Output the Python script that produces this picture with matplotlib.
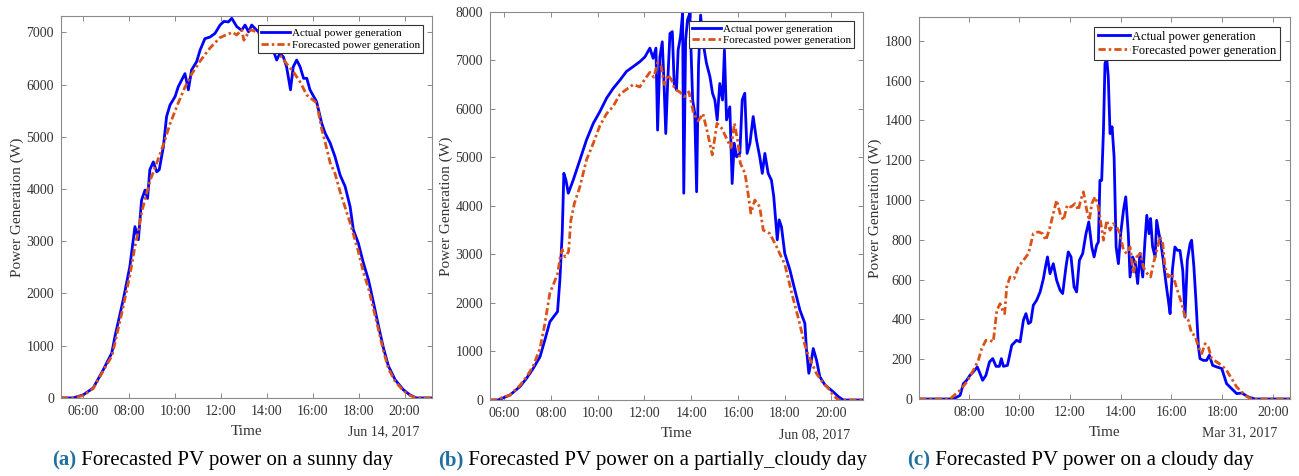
import matplotlib
matplotlib.use("Agg")
import matplotlib.pyplot as plt

plt.rcParams['font.family'] = ['Liberation Serif', 'DejaVu Serif']

# ---- (a) sunny day, Jun 14 2017 ----
t_a_act = [5.03, 5.55, 6.0, 6.43, 6.87, 7.24, 7.38, 7.74, 8.03, 8.25,
           8.4, 8.54, 8.69, 8.8, 8.9, 9.05, 9.2, 9.31, 9.49, 9.63,
           9.78, 10.0, 10.14, 10.29, 10.43, 10.58, 10.72, 10.94, 11.09, 11.3,
           11.52, 11.74, 11.96, 12.13, 12.32, 12.47, 12.69, 12.9, 13.05, 13.2,
           13.34, 13.56, 13.78, 14.0, 14.2, 14.43, 14.57, 14.72, 14.86, 15.03,
           15.15, 15.3, 15.45, 15.6, 15.74, 15.88, 16.17, 16.39, 16.54, 16.76,
           16.97, 17.19, 17.41, 17.63, 17.77, 17.99, 18.21, 18.43, 18.65, 18.87,
           19.08, 19.3, 19.59, 19.94, 20.23, 20.52, 21.2]
p_a_act = [0, 0, 60, 190, 540, 860, 1180, 1880, 2520, 3280,
           3030, 3790, 3980, 3820, 4370, 4520, 4330, 4370, 4810, 5390,
           5610, 5770, 5960, 6090, 6210, 5900, 6280, 6440, 6660, 6880,
           6910, 6980, 7140, 7210, 7200, 7270, 7110, 7040, 7140, 7010,
           7140, 7040, 6950, 6850, 6750, 6470, 6600, 6530, 6340, 5900,
           6340, 6470, 6340, 6120, 6120, 5900, 5670, 5260, 5070, 4880,
           4620, 4270, 4050, 3660, 3220, 2960, 2580, 2260, 1820, 1370,
           960, 610, 350, 160, 60, 0, 0]
t_a_fc = [5.03, 5.6, 6.0, 6.43, 6.87, 7.24, 7.38, 7.74, 8.03, 8.25,
          8.4, 8.54, 8.69, 8.9, 9.2, 9.49, 9.78, 10.14, 10.43, 10.72,
          11.09, 11.52, 11.96, 12.32, 12.5, 12.69, 12.9, 13.0, 13.05, 13.3,
          13.6, 14.0, 14.43, 14.86, 15.15, 15.45, 15.74, 16.17, 16.39, 16.54,
          16.76, 16.97, 17.19, 17.41, 17.63, 17.99, 18.21, 18.43, 18.65, 18.87,
          19.08, 19.3, 19.59, 19.94, 20.23, 20.5, 21.2]
p_a_fc = [0, 0, 50, 180, 520, 800, 1050, 1750, 2350, 2900,
          3200, 3550, 3800, 4150, 4500, 4850, 5250, 5650, 5950, 6200,
          6450, 6700, 6900, 6970, 7000, 6950, 7050, 6850, 6900, 7050,
          7000, 6850, 6650, 6400, 6250, 6050, 5800, 5650, 5150, 4900,
          4500, 4300, 3950, 3650, 3350, 2800, 2400, 2100, 1700, 1300,
          900, 560, 320, 140, 50, 0, 0]

# ---- (b) partially cloudy day, Jun 08 2017 ----
t_b_act = [5.39, 5.74, 6.24, 6.67, 6.96, 7.24, 7.53, 7.74, 7.95, 8.12,
           8.28, 8.38, 8.48, 8.55, 8.64, 8.74, 8.95, 9.24, 9.52, 9.81,
           10.09, 10.38, 10.66, 10.95, 11.23, 11.52, 11.8, 12.02, 12.23, 12.37,
           12.49, 12.56, 12.66, 12.76, 12.83, 12.91, 12.99, 13.09, 13.19, 13.27,
           13.37, 13.44, 13.54, 13.63, 13.68, 13.76, 13.84, 13.94, 14.06, 14.15,
           14.23, 14.31, 14.4, 14.51, 14.65, 14.8, 14.91, 15.01, 15.11, 15.22,
           15.34, 15.42, 15.51, 15.65, 15.75, 15.84, 15.94, 16.08, 16.18, 16.29,
           16.39, 16.51, 16.65, 16.79, 16.93, 17.04, 17.15, 17.29, 17.43, 17.53,
           17.68, 17.76, 17.86, 18.0, 18.22, 18.43, 18.65, 18.86, 18.93, 19.03,
           19.12, 19.22, 19.36, 19.5, 19.72, 20.07, 20.29, 20.5, 21.35]
p_b_act = [0, 0, 100, 275, 450, 650, 890, 1240, 1610, 1720,
           1820, 2470, 3430, 4670, 4530, 4260, 4530, 4950, 5360, 5700,
           5940, 6220, 6420, 6590, 6770, 6870, 6970, 7070, 7250, 7040,
           7250, 5560, 7070, 7380, 6590, 5490, 6520, 7550, 7590, 6520,
           6390, 7210, 7490, 7970, 4260, 7420, 7830, 7970, 6180, 5910,
           4290, 6870, 7930, 7350, 6940, 6660, 6320, 6180, 5770, 6520,
           6180, 7210, 5770, 6040, 4460, 5290, 5010, 5080, 6180, 6320,
           5080, 5290, 5840, 5360, 5010, 4670, 5080, 4670, 4530, 4190,
           3300, 3710, 3570, 3020, 2680, 2270, 1850, 1580, 1030, 550,
           760, 1060, 820, 480, 310, 170, 70, 0, 0]
t_b_fc = [5.39, 5.6, 6.24, 6.67, 6.96, 7.24, 7.53, 7.74, 7.95, 8.12,
          8.28, 8.4, 8.48, 8.6, 8.75, 8.85, 9.0, 9.24, 9.52, 9.81,
          10.09, 10.38, 10.66, 10.95, 11.23, 11.52, 11.8, 12.0, 12.23, 12.4,
          12.56, 12.7, 12.85, 13.0, 13.15, 13.3, 13.5, 13.7, 13.9, 14.1,
          14.3, 14.5, 14.7, 14.9, 15.1, 15.3, 15.5, 15.7, 15.85, 16.0,
          16.1, 16.3, 16.45, 16.55, 16.72, 16.93, 17.08, 17.36, 17.65, 17.8,
          18.0, 18.3, 18.6, 18.85, 19.0, 19.35, 19.6, 19.86, 20.1, 20.3,
          21.35]
p_b_fc = [0, 0, 100, 300, 480, 700, 1060, 1580, 2200, 2400,
          2600, 2950, 3100, 2950, 3050, 3700, 4050, 4400, 4950, 5290,
          5650, 5900, 6050, 6300, 6400, 6500, 6450, 6600, 6750, 6650,
          6950, 6900, 6500, 6700, 6600, 6400, 6350, 6250, 6350, 5900,
          5750, 5900, 5500, 5050, 5700, 5600, 5400, 5200, 5700, 5300,
          4880, 4670, 4190, 3850, 4120, 3980, 3500, 3430, 3160, 3000,
          2800, 2200, 1650, 1150, 930, 550, 380, 240, 80, 0,
          0]

# ---- (c) cloudy day, Mar 31 2017 ----
t_c_act = [6.04, 7.39, 7.66, 7.79, 7.92, 8.05, 8.18, 8.34, 8.45, 8.55,
           8.68, 8.82, 8.95, 9.08, 9.21, 9.29, 9.37, 9.53, 9.7, 9.89,
           10.03, 10.16, 10.26, 10.36, 10.45, 10.55, 10.68, 10.82, 10.95, 11.03,
           11.11, 11.21, 11.34, 11.47, 11.61, 11.71, 11.84, 11.93, 12.04, 12.16,
           12.26, 12.37, 12.5, 12.63, 12.74, 12.86, 12.95, 13.05, 13.12, 13.18,
           13.25, 13.32, 13.38, 13.45, 13.51, 13.58, 13.66, 13.74, 13.82, 13.91,
           14.0, 14.11, 14.2, 14.3, 14.37, 14.47, 14.58, 14.67, 14.76, 14.87,
           14.96, 15.03, 15.12, 15.18, 15.26, 15.36, 15.42, 15.51, 15.59, 15.68,
           15.79, 15.88, 15.95, 16.04, 16.14, 16.24, 16.34, 16.45, 16.54, 16.63,
           16.74, 16.8, 16.89, 16.97, 17.07, 17.13, 17.26, 17.39, 17.5, 17.63,
           17.79, 17.99, 18.18, 18.38, 18.58, 18.78, 19.04, 19.3, 20.68]
p_c_act = [0, 0, 18, 77, 94, 119, 136, 161, 127, 94,
           119, 186, 203, 164, 164, 203, 164, 169, 270, 295,
           287, 396, 429, 379, 387, 471, 496, 538, 605, 664,
           714, 630, 680, 597, 546, 530, 664, 739, 714, 563,
           538, 697, 731, 831, 890, 764, 714, 773, 789, 1099,
           1099, 1351, 1686, 1711, 1619, 1334, 1368, 1217, 764, 680,
           831, 949, 1016, 831, 613, 714, 680, 580, 731, 613,
           798, 923, 831, 907, 764, 714, 898, 831, 781, 697,
           580, 496, 429, 647, 764, 747, 747, 647, 412, 697,
           781, 798, 664, 496, 261, 203, 194, 194, 220, 169,
           161, 153, 77, 52, 27, 30, 10, 0, 0]
t_c_fc = [6.04, 7.26, 7.66, 7.92, 8.18, 8.38, 8.51, 8.68, 8.84, 8.97,
          9.11, 9.24, 9.34, 9.42, 9.5, 9.63, 9.79, 9.96, 10.16, 10.36,
          10.55, 10.75, 10.92, 11.05, 11.21, 11.34, 11.47, 11.61, 11.74, 11.89,
          12.04, 12.2, 12.33, 12.42, 12.53, 12.66, 12.76, 12.86, 12.99, 13.09,
          13.18, 13.32, 13.45, 13.58, 13.71, 13.84, 13.97, 14.11, 14.24, 14.37,
          14.5, 14.63, 14.79, 14.89, 15.05, 15.18, 15.29, 15.42, 15.55, 15.66,
          15.75, 15.88, 16.01, 16.14, 16.28, 16.41, 16.54, 16.67, 16.8, 16.93,
          17.07, 17.2, 17.33, 17.46, 17.59, 17.79, 17.99, 18.18, 18.38, 18.58,
          18.78, 18.97, 19.17, 20.68]
p_c_fc = [0, 0, 44, 85, 144, 194, 253, 295, 295, 287,
          446, 479, 446, 429, 563, 613, 605, 664, 697, 731,
          831, 840, 831, 798, 865, 932, 999, 932, 898, 974,
          965, 982, 949, 999, 1041, 949, 898, 982, 1016, 982,
          915, 798, 898, 848, 881, 865, 831, 747, 731, 764,
          630, 714, 731, 664, 630, 613, 680, 747, 815, 781,
          664, 613, 630, 588, 530, 479, 412, 396, 328, 320,
          261, 228, 278, 261, 203, 186, 169, 144, 102, 60,
          35, 13, 0, 0]

panels = [
    dict(pos=[0.047, 0.164, 0.2856, 0.802], ta=t_a_act, pa=p_a_act, tf=t_a_fc, pf=p_a_fc,
         xlim=(5.03, 21.2), ylim=(0, 7310), yticks=range(0, 7001, 1000), xticks=range(6, 21, 2),
         date='Jun 14, 2017', legfs=8, caption_x=52, tag='(a)',
         caption=' Forecasted PV power on a sunny day'),
    dict(pos=[0.3772, 0.1597, 0.2872, 0.8157], ta=t_b_act, pa=p_b_act, tf=t_b_fc, pf=p_b_fc,
         xlim=(5.39, 21.35), ylim=(0, 8000), yticks=range(0, 8001, 1000), xticks=range(6, 21, 2),
         date='Jun 08, 2017', legfs=8, caption_x=438, tag='(b)',
         caption=' Forecasted PV power on a partially_cloudy day'),
    dict(pos=[0.7075, 0.1618, 0.2855, 0.8025], ta=t_c_act, pa=p_c_act, tf=t_c_fc, pf=p_c_fc,
         xlim=(6.04, 20.68), ylim=(0, 1920), yticks=range(0, 1801, 200), xticks=range(8, 21, 2),
         date='Mar 31, 2017', legfs=9, caption_x=907, tag='(c)',
         caption=' Forecasted PV power on a cloudy day'),
]

fig = plt.figure(figsize=(12.99, 4.76), dpi=100)
frame_col = '#8a8a8a'
text_col = '#333333'

for p in panels:
    ax = fig.add_axes(p['pos'])
    ax.plot(p['ta'], p['pa'], color='#0000ff', lw=2.0, label='Actual power generation')
    ax.plot(p['tf'], p['pf'], color='#d95319', lw=2.0, linestyle=(0, (2.6, 1.1, 0.9, 1.1)),
            label='Forecasted power generation')
    ax.set_xlim(*p['xlim'])
    ax.set_ylim(*p['ylim'])
    ax.set_xticks(list(p['xticks']))
    ax.set_xticklabels(['%02d:00' % h for h in p['xticks']])
    ax.set_yticks(list(p['yticks']))
    ax.tick_params(direction='in', top=True, right=True, length=3.5, width=0.7,
                   color=frame_col, labelcolor=text_col, labelsize=10, pad=5)
    for s in ax.spines.values():
        s.set_color(frame_col)
        s.set_linewidth(0.8)
    ax.set_xlabel('Time', fontsize=11, color=text_col, labelpad=5)
    ax.set_ylabel('Power Generation (W)', fontsize=11, color=text_col, labelpad=2)
    ax.text(0.966, -0.089, p['date'], transform=ax.transAxes, ha='right', va='center',
            fontsize=10, color=text_col)
    leg = ax.legend(loc='upper right', fontsize=p['legfs'], handlelength=2.6, handletextpad=0.15,
                    borderpad=0.3, labelspacing=0.15, borderaxespad=0.8, fancybox=False,
                    framealpha=1)
    leg.get_frame().set_edgecolor('#333333')
    leg.get_frame().set_linewidth(0.8)

    t1 = fig.text(p['caption_x'] / 1299, 0.032, p['tag'], fontsize=15, fontweight='bold',
                  color='#1f6fa0', ha='left', va='center')
    fig.canvas.draw()
    bb = t1.get_window_extent()
    fig.text(bb.x1 / 1299, 0.032, p['caption'], fontsize=15, color='black', ha='left', va='center')

fig.savefig('out.png', dpi=100)
